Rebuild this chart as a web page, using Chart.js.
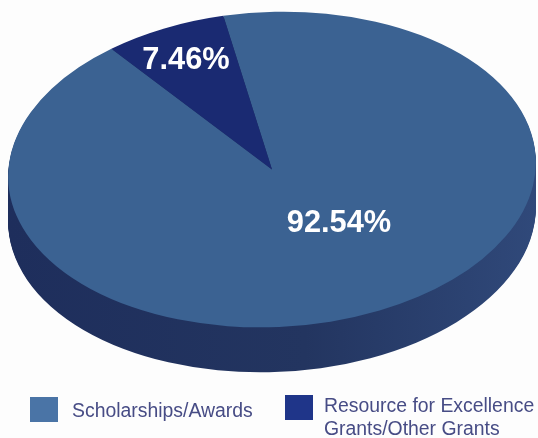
<!DOCTYPE html>
<html>
<head>
<meta charset="utf-8">
<title>Grants</title>
<script src="https://cdn.jsdelivr.net/npm/chart.js@4/dist/chart.umd.min.js"></script>
<style>
    html, body { margin: 0; padding: 0; background: #fdfdfd; }
    #wrap { position: relative; width: 538px; height: 438px; overflow: hidden; }
    #pie { position: absolute; left: 0; top: 0; }
    .swatch { position: absolute; width: 28px; height: 25px; }
    .legendText {
        position: absolute;
        font-family: "Liberation Sans", Arial, sans-serif;
        font-size: 19.4px;
        line-height: 23px;
        color: #474c85;
        white-space: nowrap;
    }
</style>
</head>
<body>
<div id="wrap">
    <canvas id="pie" width="538" height="438"></canvas>
    <div class="swatch" id="swatch0" style="left:30px;top:397px"></div>
    <div class="legendText" id="legend0" style="left:72px;top:399px"></div>
    <div class="swatch" id="swatch1" style="left:285px;top:395px"></div>
    <div class="legendText" id="legend1" style="left:324px;top:394px"></div>
</div>
<script>
// data
const categories = ["Scholarships/Awards", "Resource for Excellence\nGrants/Other Grants"];
const shares = [92.54, 7.46];

// colours
const topColors = ["#3b6292", "#1a2a72"];
const swatchColors = ["#4a74a6", "#1f3589"];

// how the flat pie gets tilted on the page
const CENTER_X = 272;
const CENTER_Y = 169.5;
const RADIUS = 264;
const SQUASH = 0.597;
const LEAN = -0.042;
const DEPTH = 45;
const LABEL_SPOTS = [[339, 224], [186, 61]];

function tilt(ctx, arc, drop) {
    ctx.translate(CENTER_X, CENTER_Y + drop);
    ctx.rotate(LEAN);
    ctx.scale(1, SQUASH);
    ctx.translate(-arc.x, -arc.y);
}

const tiltedPie = {
    id: "tiltedPie",
    beforeDatasetsDraw(chart) {
        const ctx = chart.ctx;
        const arcs = chart.getDatasetMeta(0).data;

        // side wall, stacked copies of the slices going up
        for (let d = DEPTH; d >= 1; d--) {
            arcs.forEach(arc => {
                ctx.save();
                tilt(ctx, arc, d);
                const wall = ctx.createLinearGradient(arc.x - RADIUS, 0, arc.x + RADIUS, 0);
                wall.addColorStop(0, "#1e2e5c");
                wall.addColorStop(0.55, "#233560");
                wall.addColorStop(1, "#30497a");
                ctx.fillStyle = wall;
                ctx.beginPath();
                ctx.moveTo(arc.x, arc.y);
                ctx.arc(arc.x, arc.y, arc.outerRadius, arc.startAngle, arc.endAngle);
                ctx.closePath();
                ctx.fill();
                ctx.restore();
            });
        }

        ctx.save();
        tilt(ctx, arcs[0], 0);
    },
    afterDatasetsDraw(chart) {
        const ctx = chart.ctx;
        ctx.restore();

        // percent labels
        ctx.save();
        ctx.fillStyle = "#ffffff";
        ctx.font = "bold 30.8px 'Liberation Sans', Arial, sans-serif";
        ctx.textAlign = "center";
        ctx.textBaseline = "middle";
        shares.forEach((v, i) => {
            ctx.fillText(v.toFixed(2) + "%", LABEL_SPOTS[i][0], LABEL_SPOTS[i][1]);
        });
        ctx.restore();
    }
};

new Chart(document.getElementById("pie"), {
    type: "pie",
    data: {
        labels: categories,
        datasets: [{
            data: shares,
            backgroundColor: topColors,
            borderWidth: 0
        }]
    },
    options: {
        responsive: false,
        animation: false,
        rotation: -9.2,
        radius: RADIUS,
        layout: { padding: 0 },
        plugins: {
            legend: { display: false },
            tooltip: { enabled: false }
        }
    },
    plugins: [tiltedPie]
});

// legend under the pie
categories.forEach((name, i) => {
    document.getElementById("swatch" + i).style.background = swatchColors[i];
    document.getElementById("legend" + i).innerText = name;
});
</script>
</body>
</html>
